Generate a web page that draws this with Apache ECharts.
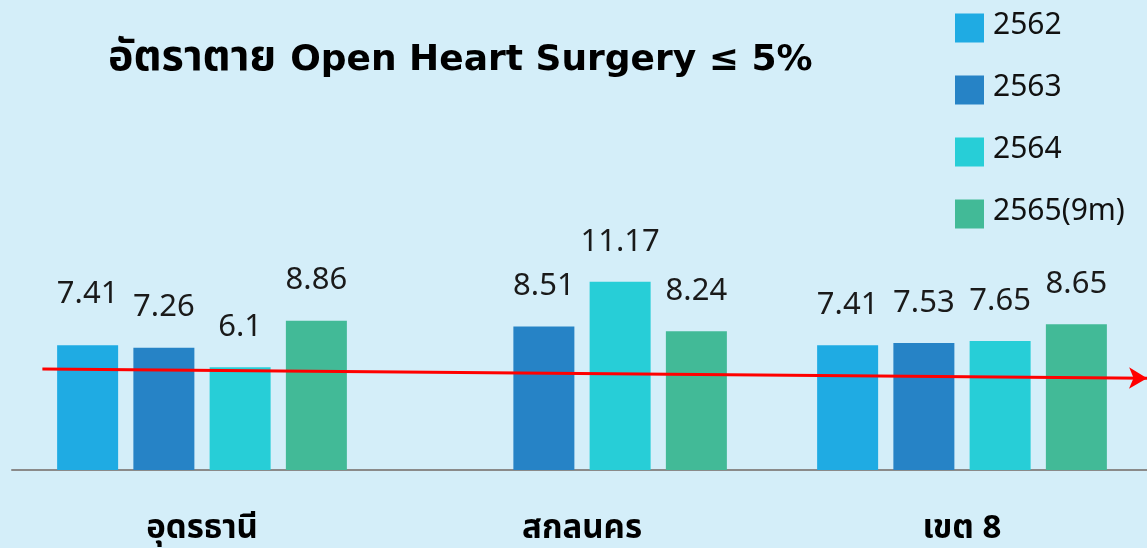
<!DOCTYPE html>
<html><head><meta charset="utf-8">
<script src="https://cdn.jsdelivr.net/npm/echarts@6/dist/echarts.min.js"></script>
<style>html,body{margin:0;padding:0;background:#d4eef9;overflow:hidden;width:1147px;height:548px;}#c{width:1152px;height:548px;}</style>
</head><body><div id="c"></div>
<script>
var categories = ['อุดรธานี', 'สกลนคร', 'เขต 8'];
var seriesNames = ['2562', '2563', '2564', '2565(9m)'];
var v2562 = [7.41, null, 7.41];
var v2563 = [7.26, 8.51, 7.53];
var v2564 = [6.1, 11.17, 7.65];
var v2565 = [8.86, 8.24, 8.65];
var titleThai = 'อัตราตาย';
var titleEn = 'Open Heart Surgery ≤ 5%';
var trendStart = [0.08, 5.99];
var trendEnd = [2.987, 5.45];
var colors = ['#1fabe3', '#2683c6', '#27ced7', '#42ba97'];
var font = '"Noto Sans Thai", "Noto Sans", sans-serif';

var allValues = [v2562, v2563, v2564, v2565];
var series = allValues.map(function (vals, i) {
  return {
    name: seriesNames[i], type: 'bar', barWidth: 61, barGap: '25%',
    itemStyle: { color: colors[i] },
    label: { show: true, position: 'top', distance: 22, fontSize: 31, color: '#1a1a1a', fontFamily: font },
    data: vals.map(function (v, j) {
      if (i === 0 && j === 0) return { value: v, label: { distance: 33 } };
      return v;
    })
  };
});
series.push({
  type: 'line', xAxisIndex: 1, data: [], silent: true,
  markLine: {
    silent: true, symbol: ['none', 'arrow'], symbolSize: [16, 18],
    lineStyle: { color: '#ff0000', width: 3, type: 'solid' },
    label: { show: false },
    data: [[{ coord: trendStart }, { coord: trendEnd }]]
  }
});

var chart = echarts.init(document.getElementById('c'));
chart.setOption({
  backgroundColor: '#d4eef9',
  animation: false,
  title: {
    text: '{th|' + titleThai + '}{sp|}{en|' + titleEn + '}', left: 103, top: 30,
    textStyle: {
      rich: {
        th: { fontSize: 43, fontWeight: 'bold', color: '#000', fontFamily: font, lineHeight: 52 },
        sp: { width: 14, lineHeight: 52 },
        en: { fontSize: 36, fontWeight: 'bold', color: '#000', fontFamily: '"DejaVu Sans", sans-serif', lineHeight: 52 }
      }
    }
  },
  legend: { orient: 'vertical', left: 950, top: 8, icon: 'rect', itemWidth: 29, itemHeight: 29, itemGap: 32,
    data: seriesNames, textStyle: { fontSize: 30, lineHeight: 29, color: '#111', fontFamily: font, padding: [0, 0, 0, 4] } },
  grid: { left: 12, right: 0, top: 133, bottom: 78 },
  xAxis: [{
    type: 'category', data: categories,
    axisLine: { lineStyle: { color: '#8a8a8a', width: 2 } },
    axisTick: { show: false },
    axisLabel: { margin: 45, fontSize: 33, fontWeight: 'bold', color: '#000', fontFamily: font }
  }, {
    type: 'value', min: 0, max: 3, show: false
  }],
  yAxis: { type: 'value', min: 0, max: 20, show: false, splitLine: { show: false } },
  series: series
});
</script></body></html>
